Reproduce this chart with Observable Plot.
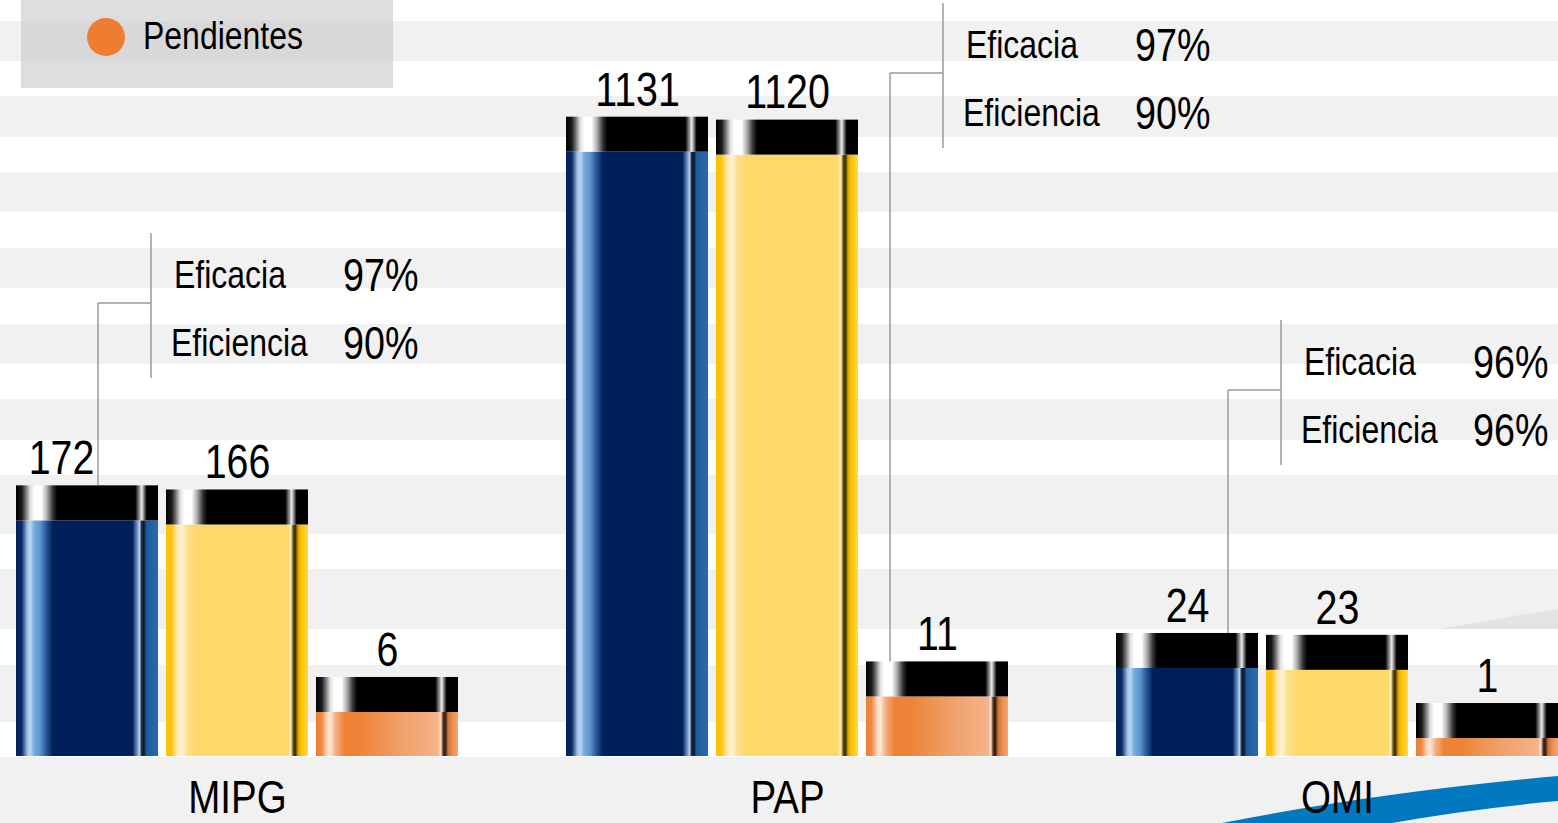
<!DOCTYPE html>
<html>
<head>
<meta charset="utf-8">
<script src="https://cdn.jsdelivr.net/npm/d3@7"></script>
<script src="https://cdn.jsdelivr.net/npm/@observablehq/plot@0.6"></script>
<style>
html, body { margin: 0; padding: 0; background: #fff; }
#wrap {
  position: relative; width: 1558px; height: 823px; overflow: hidden;
  font-family: "Liberation Sans", Arial, sans-serif;
  background: linear-gradient(to bottom,
    #fff 0px, #fff 21px, #f1f1f1 21px, #f1f1f1 61px,
    #fff 61px, #fff 96px, #f1f1f1 96px, #f1f1f1 137px,
    #fff 137px, #fff 172px, #f1f1f1 172px, #f1f1f1 212px,
    #fff 212px, #fff 248px, #f1f1f1 248px, #f1f1f1 288px,
    #fff 288px, #fff 324px, #f1f1f1 324px, #f1f1f1 364px,
    #fff 364px, #fff 399px, #f1f1f1 399px, #f1f1f1 440px,
    #fff 440px, #fff 475px, #f1f1f1 475px, #f1f1f1 534px,
    #fff 534px, #fff 569px, #f1f1f1 569px, #f1f1f1 629px,
    #fff 629px, #fff 665px, #f1f1f1 665px, #f1f1f1 722px,
    #fff 722px, #fff 757px, #f1f1f1 757px, #f1f1f1 823px);
}
#deco { position: absolute; left: 0; top: 0; }
#legend {
  position: absolute; left: 21px; top: 0; width: 372px; height: 88px;
  background: rgba(200, 200, 200, 0.6);
}
#legend .dot {
  position: absolute; left: 66px; top: 18px; width: 38px; height: 38px;
  border-radius: 50%; background: #ed7d31;
}
#legend .lab {
  position: absolute; left: 122px; top: 13px; font-size: 39px; line-height: 46px; color: #000;
  transform: scaleX(0.82); transform-origin: 0 50%; white-space: nowrap;
}
#chart { position: absolute; left: 0; top: 0; }
#chart svg { display: block; }
</style>
</head>
<body>
<div id="wrap">
  <svg id="deco" width="1558" height="823">
    <path d="M1440,629 Q1500,618 1558,609 L1558,629 Z" fill="#e3e3e3"></path>
    <path d="M1222,823 Q1380,792 1558,776 L1558,801 Q1470,809 1392,823 Z" fill="#0079c1"></path>
  </svg>
  <div id="legend"><div class="dot"></div><div class="lab">Pendientes</div></div>
  <div id="chart"></div>
</div>
<script>
// ---- data ----
const groups = ["MIPG", "PAP", "OMI"];
const series = ["Programadas", "Cumplidas", "Pendientes"];
const programadas = [172, 1131, 24];
const cumplidas = [166, 1120, 23];
const pendientes = [6, 11, 1];
const eficacia = ["97%", "97%", "96%"];
const eficiencia = ["90%", "90%", "96%"];

// ---- table built from the arrays ----
const seriesValues = [programadas, cumplidas, pendientes];
const rows = [];
groups.forEach((g, gi) => series.forEach((s, si) => rows.push({group: g, series: s, value: seriesValues[si][gi]})));

const FONT = '"Liberation Sans", Arial, sans-serif';
const SQUEEZE = 0.82; // horizontal condensing of the type
const gradOf = {Programadas: "gBlue", Cumplidas: "gYellow", Pendientes: "gOrange"};
// value label that is nudged left to clear the annotation lead line
const nudged = d => d.group === "MIPG" && d.series === "Programadas";

const plot = Plot.plot({
  width: 1558, height: 823,
  marginLeft: 16, marginRight: 0, marginTop: 0, marginBottom: 67,
  style: {background: "transparent", fontFamily: FONT, overflow: "visible"},
  fx: {domain: groups, paddingInner: 0.1964, paddingOuter: 0, round: false, axis: null},
  x: {domain: series, paddingInner: 0.0533, paddingOuter: 0, round: false, axis: null},
  y: {type: "sqrt", domain: [0, 1770], axis: null},
  color: {type: "identity"},
  marks: [
    Plot.barY(rows, {fx: "group", x: "series", y: "value", fill: d => `url(#${gradOf[d.series]})`}),
    Plot.barY(rows, {fx: "group", x: "series", y1: "value", y2: "value", insetTop: -35, fill: () => "url(#gCap)"}),
    Plot.text(rows, {filter: d => !nudged(d), fx: "group", x: "series", y: "value", text: d => String(d.value), dy: -62, fontSize: 48, fill: "#000"}),
    Plot.text(rows, {filter: nudged, fx: "group", x: "series", y: "value", text: d => String(d.value), dx: -26, dy: -62, fontSize: 48, fill: "#000"}),
    Plot.text(groups, {fx: d => d, frameAnchor: "bottom", dy: 56, text: d => d, fontSize: 47, fill: "#000"})
  ]
});
document.getElementById("chart").appendChild(plot);

const svg = d3.select(plot);

// condense Plot's texts horizontally around their anchor
svg.selectAll("text").each(function () {
  const t = this.getAttribute("transform");
  if (t && /translate/.test(t)) {
    this.setAttribute("transform", t + ` scale(${SQUEEZE},1)`);
  } else {
    const x = +this.getAttribute("x") || 0, y = +this.getAttribute("y") || 0;
    this.setAttribute("x", 0); this.setAttribute("y", 0);
    this.setAttribute("transform", `${t || ""} translate(${x},${y}) scale(${SQUEEZE},1)`);
  }
});

// ---- gradients ----
const defs = svg.insert("defs", ":first-child");
function grad(id, stops) {
  const g = defs.append("linearGradient").attr("id", id).attr("x1", 0).attr("x2", 1).attr("y1", 0).attr("y2", 0);
  stops.forEach(([o, c]) => g.append("stop").attr("offset", o + "%").attr("stop-color", c));
}
grad("gBlue", [[0,"#00205b"],[4,"#0a2a66"],[8,"#9cc0e6"],[10,"#bcd6ef"],[13,"#74a9dc"],[17,"#5d95cf"],[21,"#2b5b9c"],[26,"#00205b"],[82,"#00205b"],[85,"#5f86bd"],[87,"#b8cde6"],[88.5,"#1a2a3d"],[90,"#0b1a2b"],[92,"#1f5c9c"],[100,"#2a6aac"]]);
grad("gYellow", [[0,"#ffc000"],[4,"#ffc31a"],[8,"#ffe9b0"],[11,"#fff3d6"],[15,"#fde08e"],[22,"#fdd96a"],[86,"#fdd96a"],[88,"#fff0c8"],[89.5,"#6b5510"],[91,"#2e2508"],[93,"#d9a300"],[95,"#ffc000"],[100,"#ffd84a"]]);
grad("gOrange", [[0,"#ed7d31"],[4,"#ef8a45"],[8,"#fbd9c3"],[10,"#fde7d8"],[14,"#f3ad80"],[20,"#ee8336"],[30,"#ee8236"],[60,"#f0a06a"],[86,"#f5b38a"],[88,"#fde3d2"],[89.5,"#5a3520"],[91,"#2a1a10"],[93,"#c8743a"],[96,"#ef8e50"],[100,"#f2a574"]]);
grad("gCap", [[0,"#000"],[4,"#1a1a1a"],[7,"#777"],[10,"#e0e0e0"],[13,"#fff"],[18,"#fff"],[22,"#aaa"],[26,"#333"],[29,"#000"],[84,"#000"],[87,"#999"],[88.5,"#eee"],[90,"#888"],[92,"#000"],[100,"#000"]]);

// ---- annotations (Eficacia / Eficiencia brackets), anchored through the plot's scales ----
const annotAnchor = ["Programadas", "Pendientes", "Programadas"];
const leadOffset = [82, 24, 112];   // px from the anchor bar's left edge
const bracketY = [303, 73, 390];     // px, bracket level
const fx = plot.scale("fx"), xs = plot.scale("x"), ys = plot.scale("y");
const ann = svg.append("g").attr("font-family", FONT).attr("fill", "#000");
function label(x, y, size, str) {
  ann.append("text").attr("transform", `translate(${x},${y}) scale(${SQUEEZE},1)`)
    .attr("font-size", size).attr("text-anchor", "start").text(str);
}
groups.forEach((g, gi) => {
  const s = annotAnchor[gi];
  const v = seriesValues[series.indexOf(s)][gi];
  const barLeft = fx.apply(g) + (xs.apply(s) - xs.range[0]);
  const leadX = barLeft + leadOffset[gi];
  const capTop = ys.apply(v) - 35;
  const by = bracketY[gi];
  const bx = leadX + 53;
  const line = (x1, y1, x2, y2) => ann.append("line").attr("x1", x1).attr("y1", y1).attr("x2", x2).attr("y2", y2)
    .attr("stroke", "#9a9a9a").attr("stroke-width", 1.5);
  line(leadX, capTop, leadX, by);
  line(leadX, by, bx, by);
  line(bx, by - 70, bx, by + 75);
  label(bx + 23, by - 15, 39, "Eficacia");
  label(bx + 20, by + 53, 39, "Eficiencia");
  label(bx + 192, by - 12, 46, eficacia[gi]);
  label(bx + 192, by + 56, 46, eficiencia[gi]);
});
</script>
</body>
</html>
